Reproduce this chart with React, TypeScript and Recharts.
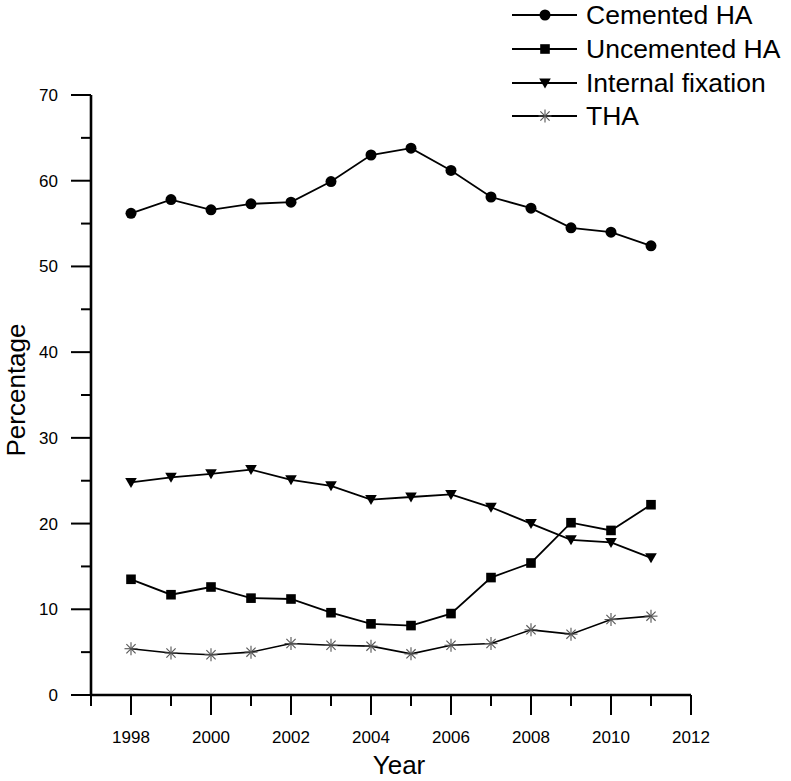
import React from 'react';
import { LineChart, Line, XAxis, YAxis, Legend } from 'recharts';

const years = [1998, 1999, 2000, 2001, 2002, 2003, 2004, 2005, 2006, 2007, 2008, 2009, 2010, 2011];
const cementedHA = [56.2, 57.8, 56.6, 57.3, 57.5, 59.9, 63.0, 63.8, 61.2, 58.1, 56.8, 54.5, 54.0, 52.4];
const uncementedHA = [13.5, 11.7, 12.6, 11.3, 11.2, 9.6, 8.3, 8.1, 9.5, 13.7, 15.4, 20.1, 19.2, 22.2];
const internalFixation = [24.8, 25.4, 25.8, 26.3, 25.1, 24.4, 22.8, 23.1, 23.4, 21.9, 20.0, 18.1, 17.8, 16.0];
const tha = [5.4, 4.9, 4.7, 5.0, 6.0, 5.8, 5.7, 4.8, 5.8, 6.0, 7.6, 7.1, 8.8, 9.2];

const seriesNames = ['Cemented HA', 'Uncemented HA', 'Internal fixation', 'THA'];
const xTicks = [1997, 1998, 1999, 2000, 2001, 2002, 2003, 2004, 2005, 2006, 2007, 2008, 2009, 2010, 2011, 2012];
const yTicks = [0, 5, 10, 15, 20, 25, 30, 35, 40, 45, 50, 55, 60, 65, 70];

const data = years.map((year, i) => ({
  year,
  cemented: cementedHA[i],
  uncemented: uncementedHA[i],
  internal: internalFixation[i],
  tha: tha[i],
}));

const FONT = '"Liberation Sans", Arial, Helvetica, sans-serif';

type Kind = 'circle' | 'square' | 'triangle' | 'star';

function Marker({ kind, cx, cy }: { kind: Kind; cx: number; cy: number }) {
  if (cx == null || cy == null) return null;
  if (kind === 'circle') return <circle cx={cx} cy={cy} r={5.5} fill="#000" />;
  if (kind === 'square') return <rect x={cx - 4.8} y={cy - 4.8} width={9.6} height={9.6} fill="#000" />;
  if (kind === 'triangle')
    return (
      <polygon
        points={`${cx - 5.8},${cy - 4.5} ${cx + 5.8},${cy - 4.5} ${cx},${cy + 5.5}`}
        fill="#000"
      />
    );
  return (
    <g stroke="#555" strokeWidth={1.1}>
      <line x1={cx - 6.5} y1={cy} x2={cx + 6.5} y2={cy} />
      <line x1={cx} y1={cy - 6.5} x2={cx} y2={cy + 6.5} />
      <line x1={cx - 4.6} y1={cy - 4.6} x2={cx + 4.6} y2={cy + 4.6} />
      <line x1={cx - 4.6} y1={cy + 4.6} x2={cx + 4.6} y2={cy - 4.6} />
    </g>
  );
}

const kindByKey: Record<string, Kind> = {
  cemented: 'circle',
  uncemented: 'square',
  internal: 'triangle',
  tha: 'star',
};

const makeDot = (kind: Kind) => (p: any) => (
  <Marker key={`${kind}-${p.index}`} kind={kind} cx={p.cx} cy={p.cy} />
);

const XTick = (props: any) => {
  const { x, y, payload } = props;
  const v = payload.value;
  const major = v % 2 === 0;
  return (
    <g>
      <line x1={x} x2={x} y1={y} y2={y + (major ? 20 : 11)} stroke="#000" strokeWidth={2} />
      {major && (
        <text x={x} y={y + 48} textAnchor="middle" fontSize={17} fill="#000" fontFamily={FONT}>
          {v}
        </text>
      )}
    </g>
  );
};

const YTick = (props: any) => {
  const { x, y, payload } = props;
  const v = payload.value;
  const major = v % 10 === 0;
  return (
    <g>
      <line x1={x - (major ? 20 : 10)} x2={x} y1={y} y2={y} stroke="#000" strokeWidth={2} />
      {major && (
        <text x={x - 33} y={y + 6} textAnchor="end" fontSize={17} fill="#000" fontFamily={FONT}>
          {v}
        </text>
      )}
    </g>
  );
};

const XLabel = (props: any) => {
  const vb = props.viewBox || { x: 91, y: 695, width: 600, height: 86 };
  return (
    <text
      x={vb.x + vb.width / 2 + 8}
      y={vb.y + 79}
      textAnchor="middle"
      fontSize={26}
      fill="#000"
      fontFamily={FONT}
    >
      Year
    </text>
  );
};

const YLabel = (props: any) => {
  const vb = props.viewBox || { x: 0, y: 95, width: 91, height: 600 };
  const tx = vb.x + 25;
  const ty = vb.y + vb.height / 2 - 5;
  return (
    <text
      x={tx}
      y={ty}
      transform={`rotate(-90, ${tx}, ${ty})`}
      textAnchor="middle"
      fontSize={26}
      fill="#000"
      fontFamily={FONT}
    >
      Percentage
    </text>
  );
};

const rowCenters = [15, 49, 83, 116];

const renderLegend = (props: any) => {
  const payload = [...(props.payload || [])].sort(
    (a: any, b: any) => seriesNames.indexOf(a.value) - seriesNames.indexOf(b.value)
  );
  return (
    <svg width={290} height={135} style={{ display: 'block' }}>
      {payload.map((entry: any, i: number) => {
        const cy = rowCenters[i];
        const kind = kindByKey[entry.dataKey as string] || 'circle';
        return (
          <g key={`leg-${i}`}>
            <line x1={7} x2={72} y1={cy} y2={cy} stroke="#000" strokeWidth={1.8} />
            <Marker kind={kind} cx={40} cy={cy} />
            <text x={81} y={cy + 9} fontSize={26.5} fill="#000" fontFamily={FONT}>
              {entry.value}
            </text>
          </g>
        );
      })}
    </svg>
  );
};

export default function App() {
  return (
    <div style={{ position: 'absolute', left: 0, top: 0, width: 791, height: 781, background: '#fff' }}>
      <LineChart
        width={791}
        height={781}
        data={data}
        margin={{ top: 95, right: 100, bottom: 0, left: 0 }}
      >
        <XAxis
          dataKey="year"
          type="number"
          domain={[1997, 2012]}
          ticks={xTicks}
          interval={0}
          height={86}
          tickSize={0}
          tickMargin={0}
          tickLine={false}
          axisLine={{ stroke: '#000', strokeWidth: 2.6 }}
          tick={<XTick />}
          label={XLabel}
        />
        <YAxis
          type="number"
          domain={[0, 70]}
          ticks={yTicks}
          interval={0}
          width={91}
          tickSize={0}
          tickMargin={0}
          tickLine={false}
          axisLine={{ stroke: '#000', strokeWidth: 2.6 }}
          tick={<YTick />}
          label={YLabel}
        />
        <Legend
          layout="vertical"
          align="center"
          verticalAlign="middle"
          wrapperStyle={{ left: 505, top: 0, width: 290, height: 135 }}
          content={renderLegend}
        />
        <Line
          type="linear"
          dataKey="cemented"
          name={seriesNames[0]}
          stroke="#000"
          strokeWidth={1.8}
          dot={makeDot('circle')}
          activeDot={false}
          isAnimationActive={false}
        />
        <Line
          type="linear"
          dataKey="uncemented"
          name={seriesNames[1]}
          stroke="#000"
          strokeWidth={1.8}
          dot={makeDot('square')}
          activeDot={false}
          isAnimationActive={false}
        />
        <Line
          type="linear"
          dataKey="internal"
          name={seriesNames[2]}
          stroke="#000"
          strokeWidth={1.8}
          dot={makeDot('triangle')}
          activeDot={false}
          isAnimationActive={false}
        />
        <Line
          type="linear"
          dataKey="tha"
          name={seriesNames[3]}
          stroke="#000"
          strokeWidth={1.6}
          dot={makeDot('star')}
          activeDot={false}
          isAnimationActive={false}
        />
      </LineChart>
    </div>
  );
}
